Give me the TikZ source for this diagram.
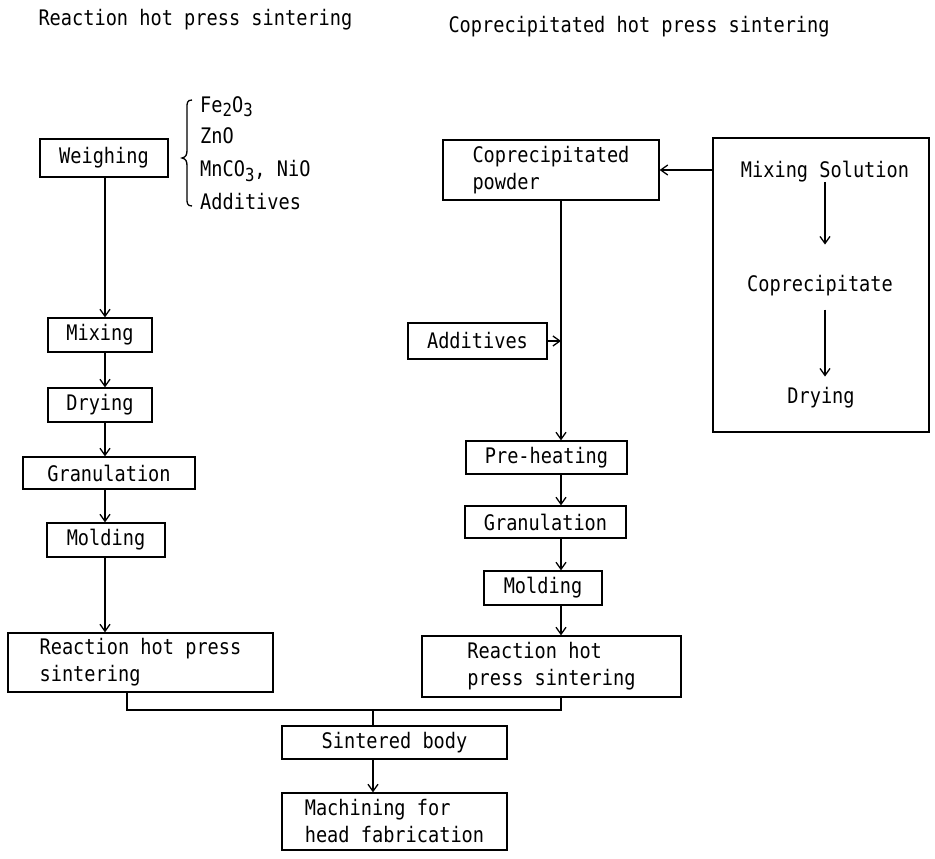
\documentclass[tikz,border=0pt]{standalone}
\usepackage{fontspec}
\setmainfont[FakeStretch=0.87]{DejaVu Sans Mono}
\usepackage{tikz}
\usetikzlibrary{arrows.meta}
\newcommand{\chsub}[1]{\raisebox{-5pt}{\fontsize{18}{18}\selectfont #1}}

\begin{document}
\begin{tikzpicture}[x=1pt,y=-1pt,>={Straight Barb[length=7pt,width=10pt]},
    every node/.style={font=\fontsize{21.4}{27}\selectfont},
    stage/.style={draw,line width=1.3pt,inner sep=0pt,align=left},
    flow/.style={->,line width=1.3pt}]
    \useasboundingbox (0,0) rectangle (935,859);

    \coordinate (lc)  at (105,0);
    \coordinate (rc)  at (561,0);
    \coordinate (sc)  at (825,0);
    \coordinate (jA)  at (127,0);
    \coordinate (mrg) at (373,710);

    \node[anchor=base west] (ttlA) at (35,26)  {Reaction hot press sintering};
    \node[anchor=base west] (ttlB) at (445,33) {Coprecipitated hot press sintering};

    \node[stage,minimum width=128,minimum height=38] (weigh)  at (104,158)     {Weighing};
    \node[stage,minimum width=104,minimum height=34] (mixA)   at (100,335)     {Mixing};
    \node[stage,minimum width=104,minimum height=34] (dryA)   at (100,405)     {Drying};
    \node[stage,minimum width=172,minimum height=32] (granA)  at (109,473)     {Granulation};
    \node[stage,minimum width=118,minimum height=34] (moldA)  at (106,540)     {Molding};
    \node[stage,minimum width=265,minimum height=59] (reactA) at (140.5,662.5) {Reaction hot press\\sintering};

    \draw[line width=1.3pt] (192,100) .. controls (187,100) and (187,103) .. (187,108) -- (187,150)
          .. controls (187,155) and (186,157) .. (182,158) .. controls (186,159) and (187,161) .. (187,166)
          -- (187,198) .. controls (187,203) and (187,206) .. (192,206);
    \node[anchor=base west,inner sep=0pt] (oxA) at (200,112) {Fe\chsub{2}O\chsub{3}};
    \node[anchor=base west,inner sep=0pt] (oxB) at (200,143) {ZnO};
    \node[anchor=base west,inner sep=0pt] (oxC) at (200,176) {MnCO\chsub{3}, NiO};
    \node[anchor=base west,inner sep=0pt] (oxD) at (200,209) {Additives};

    \node[stage,minimum width=216,minimum height=60] (powder)  at (551,170)     {Coprecipitated\\powder};
    \node[stage,minimum width=139,minimum height=36] (addB)    at (477.5,341)   {Additives};
    \node[stage,minimum width=161,minimum height=33] (preheat) at (546.5,457.5) {Pre-heating};
    \node[stage,minimum width=161,minimum height=32] (granB)   at (545.5,522)   {Granulation};
    \node[stage,minimum width=118,minimum height=34] (moldB)   at (543,588)     {Molding};
    \node[stage,minimum width=259,minimum height=61] (reactB)  at (551.5,666.5) {Reaction hot\\press sintering};

    \node[stage,minimum width=216,minimum height=294] (solbox) at (821,285) {};
    \node[anchor=base,inner sep=0pt] (msol)  at (825,177) {Mixing Solution};
    \node[anchor=base,inner sep=0pt] (cprec) at (820,291) {Coprecipitate};
    \node[anchor=base,inner sep=0pt] (mdry)  at (821,403) {Drying};

    \node[stage,minimum width=225,minimum height=33] (sint) at (394.5,742.5) {Sintered body};
    \node[stage,minimum width=225,minimum height=57] (mach) at (394.5,821.5) {Machining for\\head fabrication};

    \draw[flow] (weigh.south -| lc) -- (mixA.north -| lc);
    \draw[flow] (mixA.south -| lc)  -- (dryA.north -| lc);
    \draw[flow] (dryA.south -| lc)  -- (granA.north -| lc);
    \draw[flow] (granA.south -| lc) -- (moldA.north -| lc);
    \draw[flow] (moldA.south -| lc) -- (reactA.north -| lc);

    \draw[flow] (solbox.west |- powder.east) -- (powder.east);
    \draw[flow,shorten >=30pt] (msol.south -| sc) -- (cprec.north -| sc);
    \draw[flow,shorten <=14pt,shorten >=10pt] (cprec.south -| sc) -- (mdry.north -| sc);

    \draw[flow] (powder.south -| rc)  -- (preheat.north -| rc);
    \draw[flow] (addB.east)           -- (addB.east -| rc);
    \draw[flow] (preheat.south -| rc) -- (granB.north -| rc);
    \draw[flow] (granB.south -| rc)   -- (moldB.north -| rc);
    \draw[flow] (moldB.south -| rc)   -- (reactB.north -| rc);

    \draw[line width=1.3pt] (reactA.south -| jA) |- (mrg) -| (reactB.south -| rc);
    \draw[line width=1.3pt] (mrg) -- (sint.north -| mrg);
    \draw[flow] (sint.south -| mrg) -- (mach.north -| mrg);
\end{tikzpicture}
\end{document}
